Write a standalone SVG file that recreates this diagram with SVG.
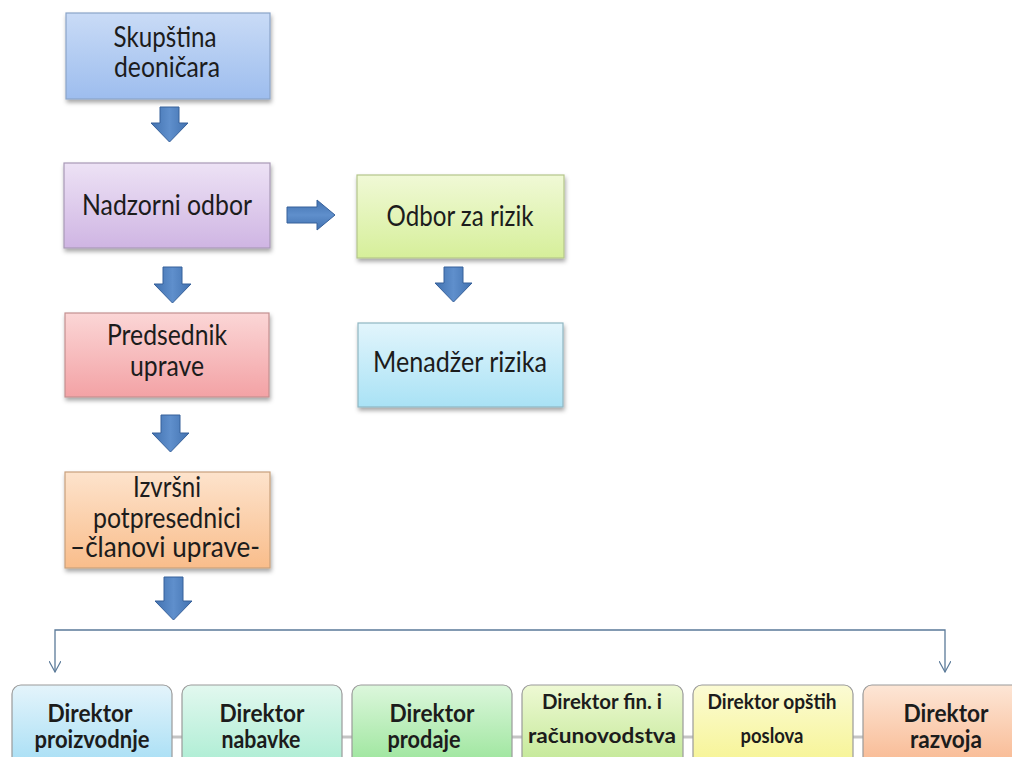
<svg xmlns="http://www.w3.org/2000/svg" width="1012" height="757" viewBox="0 0 1012 757">
<defs>
<filter id="sh" x="-10%" y="-10%" width="120%" height="130%"><feDropShadow dx="1" dy="3" stdDeviation="2" flood-color="#000" flood-opacity="0.35"/></filter>
<linearGradient id="gBlue" x1="0" y1="0" x2="0" y2="1"><stop offset="0" stop-color="#c9dbf6"/><stop offset="1" stop-color="#9dbdee"/></linearGradient>
<linearGradient id="gPurple" x1="0" y1="0" x2="0" y2="1"><stop offset="0" stop-color="#ede2f5"/><stop offset="1" stop-color="#cfb5e3"/></linearGradient>
<linearGradient id="gLime" x1="0" y1="0" x2="0" y2="1"><stop offset="0" stop-color="#f0f9d6"/><stop offset="1" stop-color="#d6ef9a"/></linearGradient>
<linearGradient id="gRed" x1="0" y1="0" x2="0" y2="1"><stop offset="0" stop-color="#fbd6d6"/><stop offset="1" stop-color="#f3a2a5"/></linearGradient>
<linearGradient id="gCyan" x1="0" y1="0" x2="0" y2="1"><stop offset="0" stop-color="#e2f5fc"/><stop offset="1" stop-color="#a9e2f5"/></linearGradient>
<linearGradient id="gOrange" x1="0" y1="0" x2="0" y2="1"><stop offset="0" stop-color="#fde3cc"/><stop offset="1" stop-color="#f9bd8b"/></linearGradient>
<linearGradient id="b1" x1="0" y1="0" x2="0" y2="1"><stop offset="0" stop-color="#e4f4fb"/><stop offset="1" stop-color="#a0dcf4"/></linearGradient>
<linearGradient id="b2" x1="0" y1="0" x2="0" y2="1"><stop offset="0" stop-color="#e2f8ef"/><stop offset="1" stop-color="#a6ecd0"/></linearGradient>
<linearGradient id="b3" x1="0" y1="0" x2="0" y2="1"><stop offset="0" stop-color="#dcf7dc"/><stop offset="1" stop-color="#94e394"/></linearGradient>
<linearGradient id="b4" x1="0" y1="0" x2="0" y2="1"><stop offset="0" stop-color="#eef9d4"/><stop offset="1" stop-color="#bde68e"/></linearGradient>
<linearGradient id="b5" x1="0" y1="0" x2="0" y2="1"><stop offset="0" stop-color="#fbfbd4"/><stop offset="1" stop-color="#f6f38c"/></linearGradient>
<linearGradient id="b6" x1="0" y1="0" x2="0" y2="1"><stop offset="0" stop-color="#fde6d6"/><stop offset="1" stop-color="#f8b48a"/></linearGradient>
<linearGradient id="gArrow" x1="0" y1="0" x2="1" y2="0"><stop offset="0" stop-color="#4272b0"/><stop offset="0.5" stop-color="#5f8fcc"/><stop offset="1" stop-color="#4272b0"/></linearGradient>
<linearGradient id="gArrowH" x1="0" y1="0" x2="0" y2="1"><stop offset="0" stop-color="#4272b0"/><stop offset="0.5" stop-color="#5f8fcc"/><stop offset="1" stop-color="#4272b0"/></linearGradient>
<marker id="vhead" viewBox="0 0 12 12" refX="11" refY="6" markerWidth="12" markerHeight="12" markerUnits="userSpaceOnUse" orient="auto-start-reverse"><path d="M0,0 L11,6 L0,12" fill="none" stroke="#5b7a99" stroke-width="1.2"/></marker>
</defs>
<style>
.box{stroke-width:1.2;filter:url(#sh)}
.t{font-family:Lato,"Open Sans","Liberation Sans",sans-serif;font-size:29px;fill:#1c1c1c;text-anchor:middle}
.b{font-family:Lato,"Open Sans","Liberation Sans",sans-serif;font-weight:bold;font-size:25px;fill:#1c1c1c;text-anchor:middle}
.bs{font-family:Lato,"Open Sans","Liberation Sans",sans-serif;font-weight:bold;font-size:20px;fill:#1c1c1c;text-anchor:middle}
.arr{fill:url(#gArrow);stroke:#36609a;stroke-width:1}
.arrh{fill:url(#gArrowH);stroke:#36609a;stroke-width:1}
.bb{stroke:#9a9a9a;stroke-width:1.2}
.link{stroke:#c4c4c4;stroke-width:3}
</style>
<rect width="1012" height="757" fill="#ffffff"/>

<g id="connectors">
<path class="arr" d="M160,107 h19 v16 h9 l-18.5,19 l-18.5,-19 h9 z"/>
<path class="arr" d="M163,267 h19 v17 h9 l-18.5,19 l-18.5,-19 h9 z"/>
<path class="arr" d="M444,267 h19 v16 h9 l-18.5,19 l-18.5,-19 h9 z"/>
<path class="arr" d="M161,415 h19 v18 h9 l-18.5,19 l-18.5,-19 h9 z"/>
<path class="arr" d="M164,577 h19 v24 h9 l-18.5,19 l-18.5,-19 h9 z"/>
<path class="arrh" d="M287,207 h30 v-7 l18,15 l-18,15 v-7 h-30 z"/>
<path d="M55,672 V630 H945 V672" fill="none" stroke="#5b7a99" stroke-width="1.3" marker-start="url(#vhead)" marker-end="url(#vhead)"/>
<line class="link" x1="172" y1="737" x2="182" y2="737"/>
<line class="link" x1="342" y1="737" x2="352" y2="737"/>
<line class="link" x1="512" y1="737" x2="522" y2="737"/>
<line class="link" x1="683" y1="737" x2="693" y2="737"/>
<line class="link" x1="853" y1="737" x2="863" y2="737"/>
</g>

<g id="skupstina">
<rect class="box" x="66" y="13" width="204" height="86" fill="url(#gBlue)" stroke="#8aa4c8"/>
<text class="t" x="165" y="47" textLength="103" lengthAdjust="spacingAndGlyphs">Skupština</text>
<text class="t" x="167" y="77" textLength="106" lengthAdjust="spacingAndGlyphs">deoničara</text>
</g>

<g id="nadzorni">
<rect class="box" x="64" y="163" width="206" height="85" fill="url(#gPurple)" stroke="#a899b6"/>
<text class="t" x="167" y="215" textLength="170" lengthAdjust="spacingAndGlyphs">Nadzorni odbor</text>
</g>

<g id="odbor">
<rect class="box" x="357" y="175" width="207" height="83" fill="url(#gLime)" stroke="#b4c58a"/>
<text class="t" x="460" y="226" textLength="147" lengthAdjust="spacingAndGlyphs">Odbor za rizik</text>
</g>

<g id="predsednik">
<rect class="box" x="65" y="313" width="204" height="84" fill="url(#gRed)" stroke="#c49090"/>
<text class="t" x="167" y="345" textLength="120" lengthAdjust="spacingAndGlyphs">Predsednik</text>
<text class="t" x="167" y="376" textLength="74" lengthAdjust="spacingAndGlyphs">uprave</text>
</g>

<g id="menadzer">
<rect class="box" x="358" y="323" width="205" height="84" fill="url(#gCyan)" stroke="#8fb6c2"/>
<text class="t" x="460" y="372" textLength="174" lengthAdjust="spacingAndGlyphs">Menadžer rizika</text>
</g>

<g id="izvrsni">
<rect class="box" x="65" y="472" width="205" height="96" fill="url(#gOrange)" stroke="#c9a07c"/>
<text class="t" x="167" y="497" textLength="68" lengthAdjust="spacingAndGlyphs">Izvršni</text>
<text class="t" x="167" y="528" textLength="148" lengthAdjust="spacingAndGlyphs">potpresednici</text>
<text class="t" x="165" y="557" textLength="190" lengthAdjust="spacingAndGlyphs">–članovi uprave-</text>
</g>

<g id="dir-proizvodnje">
<rect class="bb" x="12" y="685" width="160" height="90" rx="9" fill="url(#b1)"/>
<text class="b" x="90" y="722" textLength="85" lengthAdjust="spacingAndGlyphs">Direktor</text>
<text class="b" x="92" y="748" textLength="115" lengthAdjust="spacingAndGlyphs">proizvodnje</text>
</g>
<g id="dir-nabavke">
<rect class="bb" x="182" y="685" width="160" height="90" rx="9" fill="url(#b2)"/>
<text class="b" x="262" y="722" textLength="85" lengthAdjust="spacingAndGlyphs">Direktor</text>
<text class="b" x="261" y="748" textLength="79" lengthAdjust="spacingAndGlyphs">nabavke</text>
</g>
<g id="dir-prodaje">
<rect class="bb" x="352" y="685" width="160" height="90" rx="9" fill="url(#b3)"/>
<text class="b" x="432" y="722" textLength="85" lengthAdjust="spacingAndGlyphs">Direktor</text>
<text class="b" x="424" y="748" textLength="73" lengthAdjust="spacingAndGlyphs">prodaje</text>
</g>
<g id="dir-finansija">
<rect class="bb" x="522" y="685" width="161" height="90" rx="9" fill="url(#b4)"/>
<text class="bs" x="602" y="709" textLength="120" lengthAdjust="spacingAndGlyphs">Direktor fin. i</text>
<text class="bs" x="602" y="743" textLength="148" lengthAdjust="spacingAndGlyphs">računovodstva</text>
</g>
<g id="dir-opstih">
<rect class="bb" x="693" y="685" width="160" height="90" rx="9" fill="url(#b5)"/>
<text class="bs" x="772" y="709" textLength="129" lengthAdjust="spacingAndGlyphs">Direktor opštih</text>
<text class="bs" x="772" y="743" textLength="63" lengthAdjust="spacingAndGlyphs">poslova</text>
</g>
<g id="dir-razvoja">
<rect class="bb" x="863" y="685" width="166" height="90" rx="9" fill="url(#b6)"/>
<text class="b" x="946" y="722" textLength="85" lengthAdjust="spacingAndGlyphs">Direktor</text>
<text class="b" x="946" y="748" textLength="72" lengthAdjust="spacingAndGlyphs">razvoja</text>
</g>
</svg>
